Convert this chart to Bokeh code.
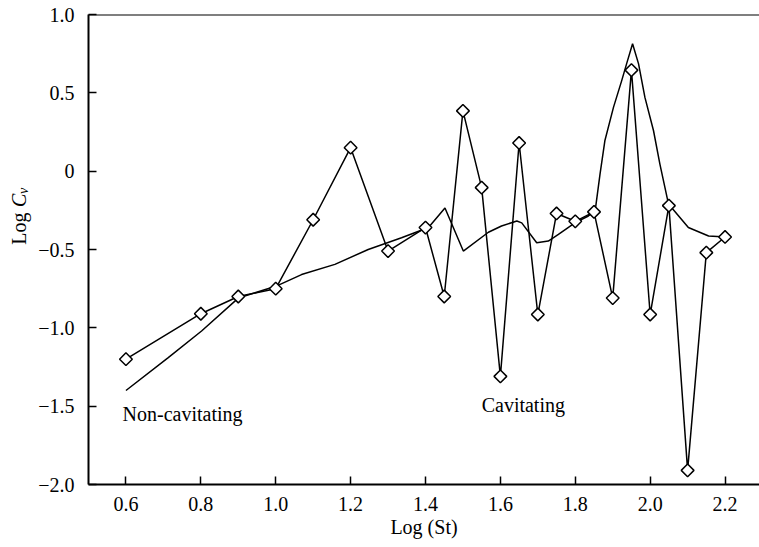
import math

from bokeh.core.properties import value
from bokeh.embed import file_html
from bokeh.layouts import row
from bokeh.models import CustomJSTickFormatter, FixedTicker, Label, Range1d, Span
from bokeh.plotting import figure
from bokeh.resources import INLINE

# Non-cavitating response: continuous trace, drawn without markers
noncav_x = [0.6, 0.713, 0.802, 0.9, 1.0, 1.069, 1.158, 1.247, 1.336, 1.408,
            1.452, 1.501, 1.568, 1.603, 1.644, 1.657, 1.697, 1.728, 1.755,
            1.799, 1.835, 1.853, 1.866, 1.879, 1.902, 1.924, 1.937, 1.953,
            1.969, 1.986, 2.009, 2.026, 2.049, 2.102, 2.156, 2.202]
noncav_y = [-1.40, -1.19, -1.02, -0.81, -0.735, -0.66, -0.595, -0.50, -0.425,
            -0.36, -0.235, -0.51, -0.39, -0.35, -0.318, -0.33, -0.457, -0.446,
            -0.403, -0.33, -0.286, -0.255, -0.02, 0.194, 0.407, 0.578, 0.685,
            0.813, 0.685, 0.471, 0.258, 0.045, -0.21, -0.36, -0.414, -0.42]

# Cavitating response: measured points, joined and marked
cav_x = [0.6, 0.8, 0.9, 1.0, 1.1, 1.2, 1.3, 1.4, 1.45, 1.5, 1.55, 1.6, 1.65,
         1.7, 1.75, 1.8, 1.85, 1.9, 1.95, 2.0, 2.05, 2.1, 2.15, 2.2]
cav_y = [-1.20, -0.91, -0.80, -0.75, -0.31, 0.15, -0.51, -0.36, -0.80, 0.385,
         -0.105, -1.31, 0.18, -0.915, -0.27, -0.32, -0.26, -0.81, 0.645,
         -0.915, -0.22, -1.91, -0.52, -0.42]

x_ticks = [0.6, 0.8, 1.0, 1.2, 1.4, 1.6, 1.8, 2.0, 2.2]
x_tick_labels = ["0.6", "0.8", "1.0", "1.2", "1.4", "1.6", "1.8", "2.0", "2.2"]
y_ticks = [1.0, 0.5, 0, -0.5, -1.0, -1.5, -2.0]
y_tick_labels = ["1.0", "0.5", "0", "\u22120.5", "\u22121.0", "\u22121.5", "\u22122.0"]

SERIF = "Liberation Serif"
FONT_SIZE = "20px"
LABEL_W = 34  # width of the strip that carries the y-axis title

LOOKUP = """
const i = values.findIndex(v => Math.abs(v - tick) < 1e-9);
return i >= 0 ? labels[i] : "";
"""

p = figure(
    width=759 - LABEL_W, height=547,
    x_range=Range1d(0.5, 2.292), y_range=Range1d(-2.0, 1.0),
    output_backend="svg", toolbar_location=None,
    min_border_left=88 - LABEL_W, min_border_right=0,
    min_border_top=14, min_border_bottom=63,
)
p.xgrid.visible = False
p.ygrid.visible = False
p.outline_line_color = None
p.background_fill_color = "white"
p.border_fill_color = "white"

for ax in (p.xaxis[0], p.yaxis[0]):
    ax.axis_line_width = 2
    ax.axis_line_color = "black"
    ax.major_tick_in = 8
    ax.major_tick_out = 0
    ax.minor_tick_in = 0
    ax.minor_tick_out = 0
    ax.major_tick_line_width = 1.5
    ax.major_tick_line_color = "black"
    ax.major_label_text_font = SERIF
    ax.major_label_text_font_size = FONT_SIZE
    ax.major_label_text_color = "black"

p.xaxis.ticker = FixedTicker(ticks=x_ticks, minor_ticks=[])
p.xaxis.formatter = CustomJSTickFormatter(
    args=dict(values=x_ticks, labels=x_tick_labels), code=LOOKUP)
p.xaxis.major_label_standoff = 12
p.xaxis.axis_label = "Log (St)"
p.xaxis.axis_label_text_font = SERIF
p.xaxis.axis_label_text_font_size = FONT_SIZE
p.xaxis.axis_label_text_font_style = "normal"
p.xaxis.axis_label_text_color = "black"
p.xaxis.axis_label_standoff = 2

p.yaxis.ticker = FixedTicker(ticks=y_ticks, minor_ticks=[])
p.yaxis.formatter = CustomJSTickFormatter(
    args=dict(values=y_ticks, labels=y_tick_labels), code=LOOKUP)
p.yaxis.major_label_standoff = 14

# top border of the plotting area (no right-hand border)
p.add_layout(Span(location=1.0, dimension="width", line_color="black", line_width=2))

p.line(noncav_x, noncav_y, line_color="black", line_width=1.5)
p.line(cav_x, cav_y, line_color="black", line_width=1.5)
p.scatter(cav_x, cav_y, marker="square", angle=math.pi / 4, size=9,
          fill_color="white", line_color="black", line_width=1.5)

note = dict(text_font=SERIF, text_font_size=FONT_SIZE, text_color="black",
            text_baseline="alphabetic", text_align="left")
p.add_layout(Label(x=0.591, y=-1.55, text="Non-cavitating", **note))
p.add_layout(Label(x=1.550, y=-1.49, text="Cavitating", **note))

# narrow strip to the left holding the rotated y-axis title "Log C_v"
# (its ranges are in pixels, so the title pieces are placed by pixel)
t = figure(
    width=LABEL_W, height=547,
    x_range=Range1d(0, LABEL_W), y_range=Range1d(0, 547),
    output_backend="svg", toolbar_location=None,
    min_border=0, min_border_left=0, min_border_right=0,
    min_border_top=0, min_border_bottom=0,
)
t.axis.visible = False
t.grid.visible = False
t.outline_line_color = None
t.background_fill_color = "white"
t.border_fill_color = "white"

title_parts = ["Log", "C", "v"]
title_styles = ["normal", "italic", "italic"]
title_sizes = ["20px", "20px", "14px"]
title_x = [18, 18, 23]
title_y = [547 - 268, 547 - 224, 547 - 209]
for txt, sty, sz, tx, ty in zip(title_parts, title_styles, title_sizes, title_x, title_y):
    t.text(x=[tx], y=[ty], text=[txt], angle=math.pi / 2,
           text_font=value(SERIF), text_font_style=value(sty),
           text_font_size=value(sz), text_color="black",
           text_baseline="middle", text_align="left")

layout = row(t, p, spacing=0)

open("out.html", "w").write(file_html(layout, INLINE))
